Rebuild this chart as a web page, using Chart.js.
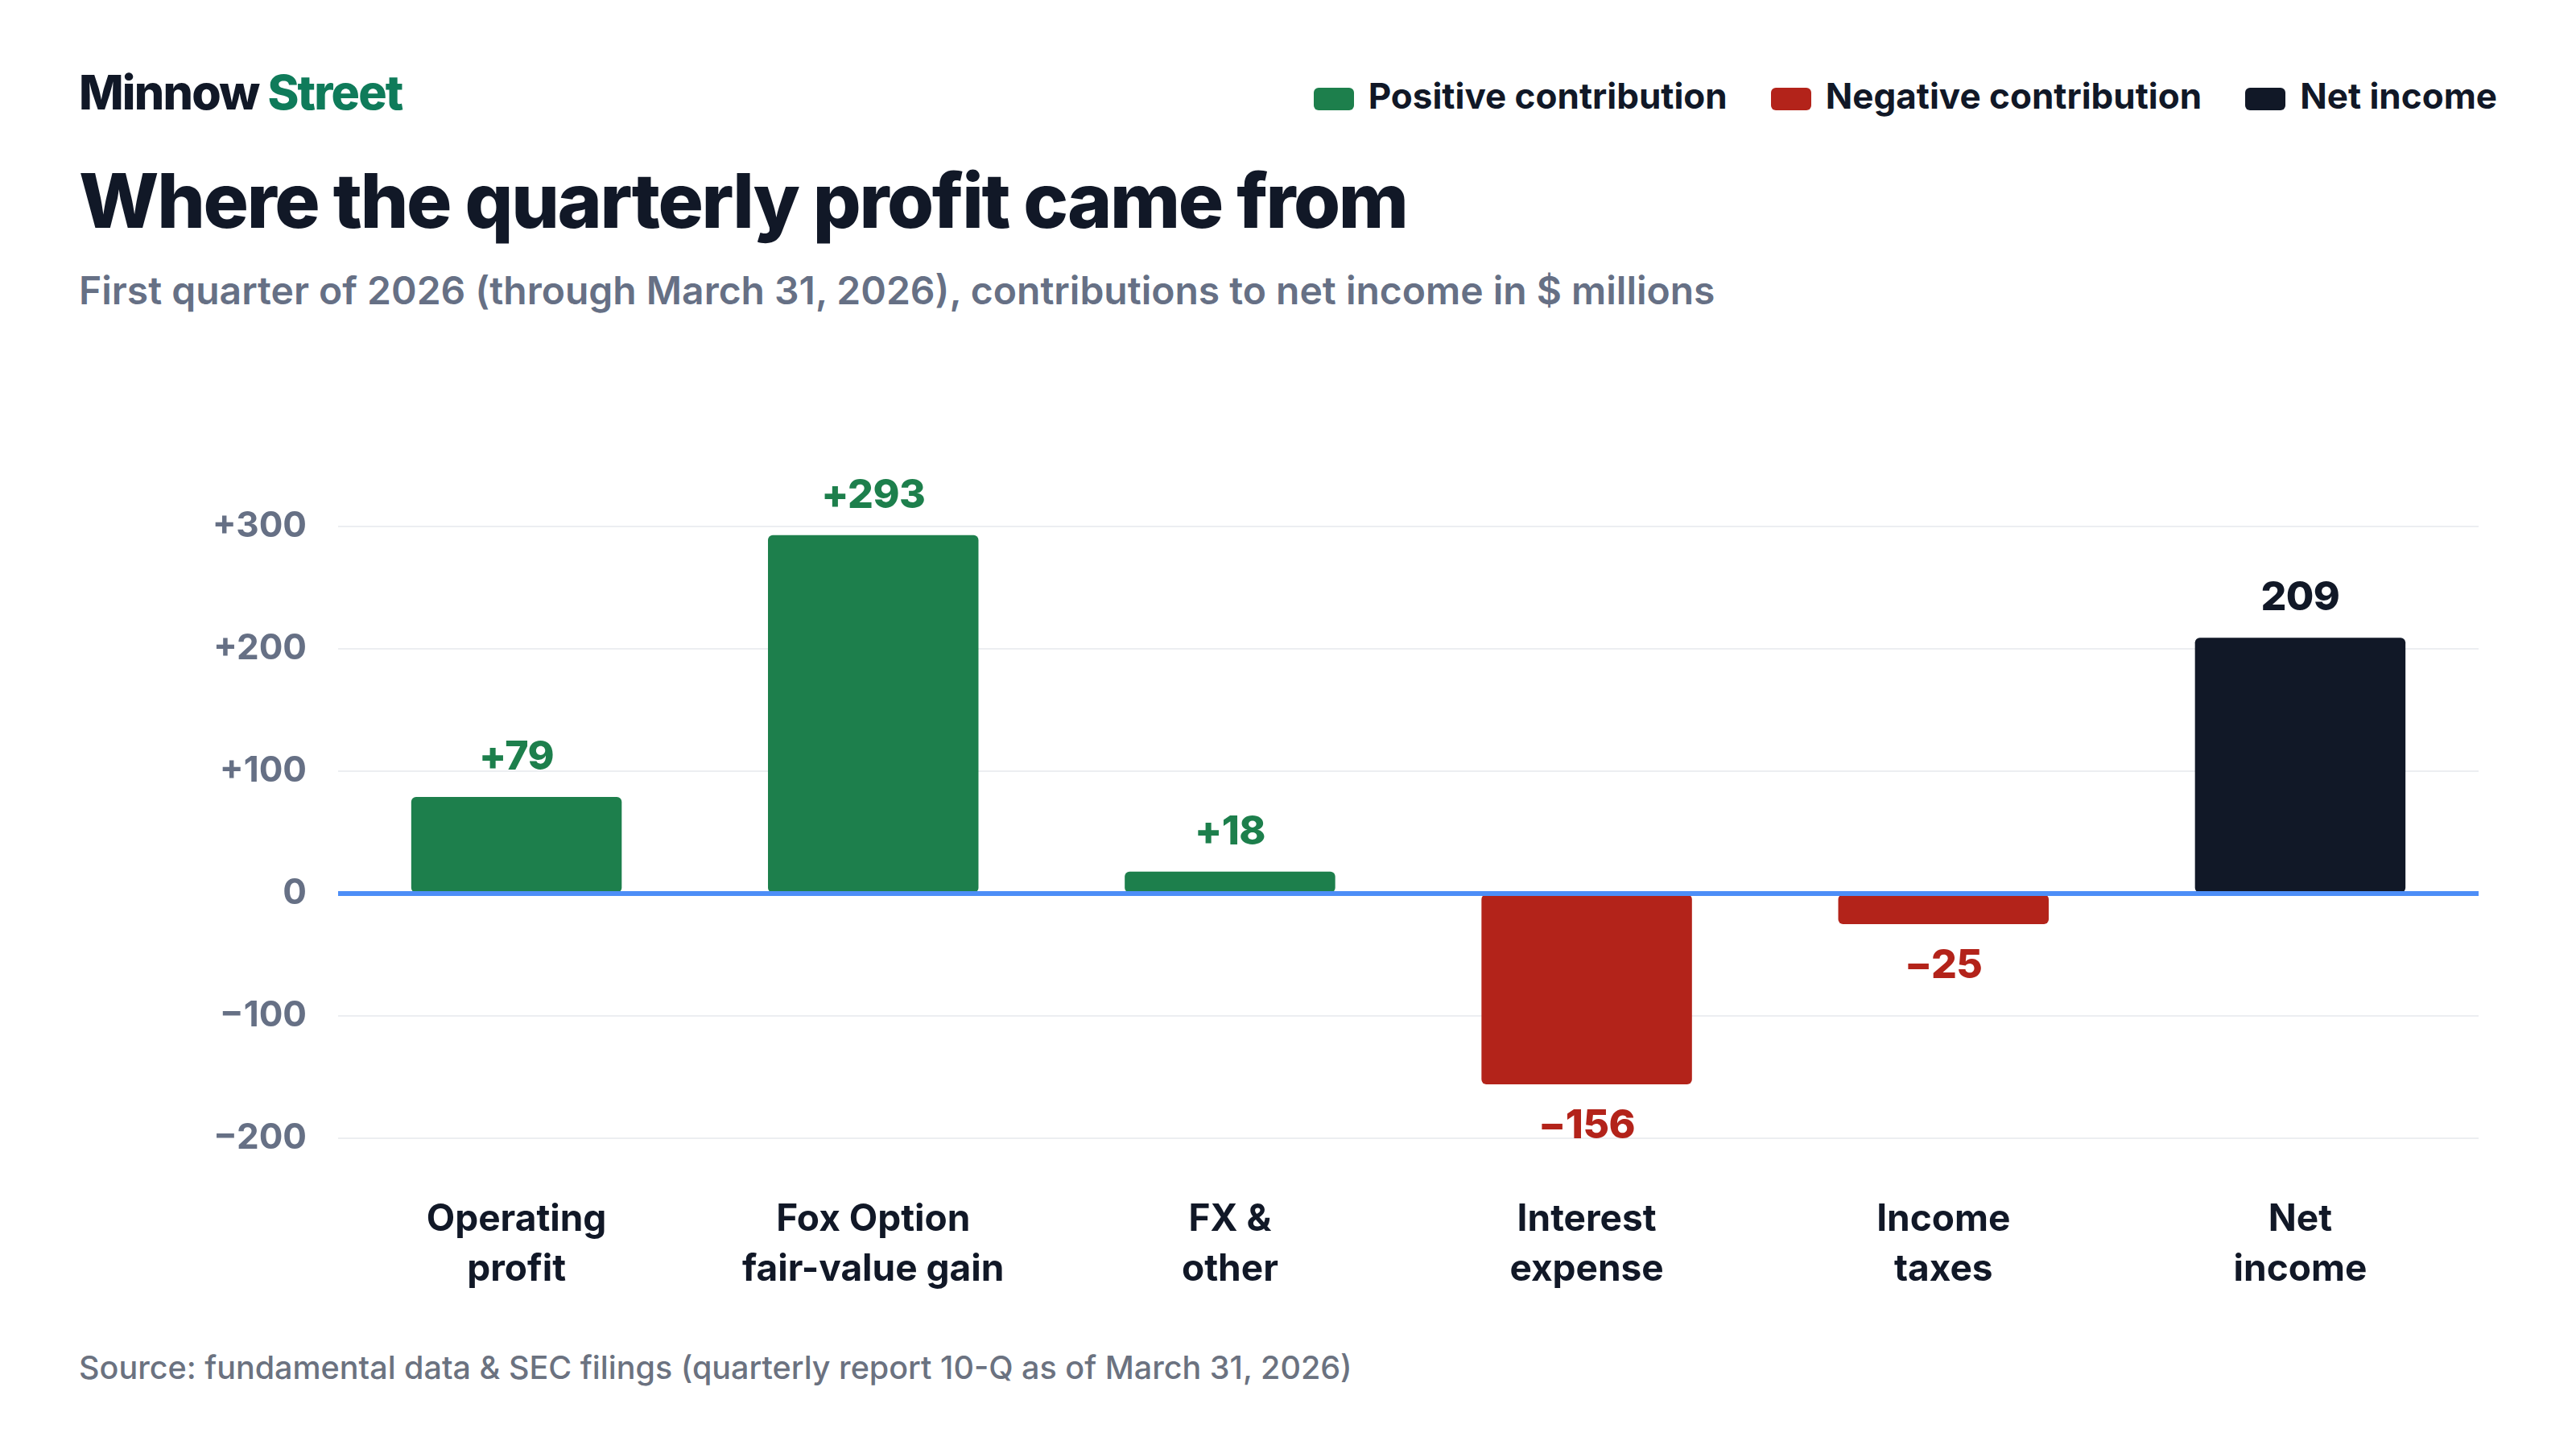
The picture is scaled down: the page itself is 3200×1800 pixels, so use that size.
<!DOCTYPE html>
<html>
<head>
<meta charset="utf-8">
<script src="https://cdn.jsdelivr.net/npm/chart.js@4.4.1/dist/chart.umd.min.js"></script>
<style>
  html, body { margin: 0; padding: 0; background: #fff; }
  body { width: 3200px; height: 1800px; position: relative; overflow: hidden; font-family: Inter, "Noto Sans", sans-serif; }
  .abs { position: absolute; line-height: 1; white-space: nowrap; }
  #brand { left: 98px; top: 85px; font-size: 59px; font-weight: 800; color: #111827; letter-spacing: -1.8px; }
  #brand span { color: #0f7b5a; }
  #title { left: 98px; top: 202px; font-size: 94px; font-weight: 800; color: #111827; letter-spacing: -2.3px; }
  #subtitle { left: 98px; top: 337px; font-size: 48px; font-weight: 600; color: #667085; letter-spacing: 0; }
  #legend { right: 98px; top: 97px; display: flex; font-size: 44px; font-weight: 700; color: #111827; letter-spacing: 0; }
  #legend .item { display: flex; align-items: center; margin-left: 54px; height: 44px; }
  #legend .sw { width: 50px; height: 28px; border-radius: 6px; margin-right: 18px; position: relative; top: 4px; }
  #source { left: 98px; top: 1680px; font-size: 39.5px; font-weight: 500; color: #6b7280; letter-spacing: 0; }
  #wrap { position: absolute; left: 0; top: 560px; width: 3200px; height: 1100px; }
</style>
</head>
<body>
<div id="brand" class="abs">Minnow <span>Street</span></div>
<div id="title" class="abs">Where the quarterly profit came from</div>
<div id="subtitle" class="abs">First quarter of 2026 (through March 31, 2026), contributions to net income in $ millions</div>
<div id="legend" class="abs"></div>
<div id="wrap"><canvas id="chart"></canvas></div>
<div id="source" class="abs">Source: fundamental data &amp; SEC filings (quarterly report 10-Q as of March 31, 2026)</div>

<script>
// ---- data ----
const categories = [
  ["Operating", "profit"],
  ["Fox Option", "fair-value gain"],
  ["FX &", "other"],
  ["Interest", "expense"],
  ["Income", "taxes"],
  ["Net", "income"]
];
const values = [79, 293, 18, -156, -25, 209];
const kinds = ["pos", "pos", "pos", "neg", "neg", "net"];
const legendLabels = ["Positive contribution", "Negative contribution", "Net income"];
const yMin = -200, yMax = 300, yStep = 100;

const colors = { pos: "#1d7f4c", neg: "#b3231a", net: "#111827" };
const legendKinds = ["pos", "neg", "net"];

function signed(v) {
  if (v > 0) return "+" + v;
  if (v < 0) return "\u2212" + Math.abs(v);
  return "0";
}

// legend
legendLabels.forEach(function (lbl, i) {
  const item = document.createElement("div");
  item.className = "item";
  item.innerHTML = '<span class="sw" style="background:' + colors[legendKinds[i]] + '"></span>' + lbl;
  document.getElementById("legend").appendChild(item);
});

// value labels + zero line
const barLabels = {
  id: "barLabels",
  afterDatasetsDraw(chart) {
    const ctx = chart.ctx;
    const area = chart.chartArea;
    const y0 = chart.scales.y.getPixelForValue(0);
    ctx.save();
    ctx.strokeStyle = "#4d8ef7";
    ctx.lineWidth = 6;
    ctx.beginPath();
    ctx.moveTo(area.left, y0);
    ctx.lineTo(area.right, y0);
    ctx.stroke();

    ctx.font = "800 50px Inter";
    ctx.letterSpacing = "-0.5px";
    ctx.textAlign = "center";
    ctx.textBaseline = "alphabetic";
    chart.getDatasetMeta(0).data.forEach(function (bar, i) {
      const v = values[i];
      const k = kinds[i];
      ctx.fillStyle = colors[k];
      const txt = k === "net" ? String(v) : signed(v);
      if (v >= 0) ctx.fillText(txt, bar.x, bar.y - 34);
      else ctx.fillText(txt, bar.x, bar.y + 67);
    });
    ctx.restore();
  }
};

new Chart(document.getElementById("chart").getContext("2d"), {
  type: "bar",
  data: {
    labels: categories,
    datasets: [{
      data: values,
      backgroundColor: kinds.map(function (k) { return colors[k]; }),
      borderRadius: 6,
      borderSkipped: false,
      barPercentage: 0.59,
      categoryPercentage: 1
    }]
  },
  options: {
    responsive: true,
    maintainAspectRatio: false,
    animation: false,
    layout: { padding: { top: 94, right: 121, left: 0, bottom: 0 } },
    plugins: { legend: { display: false }, tooltip: { enabled: false } },
    scales: {
      x: {
        grid: { display: false, drawTicks: false },
        border: { display: false },
        ticks: {
          color: "#111827",
          font: { family: "Inter", size: 46, weight: 700, lineHeight: 1.33 },
          padding: 71,
          maxRotation: 0,
          autoSkip: false
        },
        afterFit(scale) { scale.height = 246; }
      },
      y: {
        min: yMin,
        max: yMax,
        grid: {
          color: function (c) { return c.tick && c.tick.value === 0 ? "rgba(0,0,0,0)" : "#eceef1"; },
          lineWidth: 2,
          drawTicks: false
        },
        border: { display: false },
        ticks: {
          stepSize: yStep,
          color: "#667085",
          font: { family: "Inter", size: 44, weight: 700 },
          padding: 39,
          callback: function (v) { return signed(v); }
        },
        afterFit(scale) { scale.width = 420; }
      }
    }
  },
  plugins: [barLabels]
});
</script>
</body>
</html>
